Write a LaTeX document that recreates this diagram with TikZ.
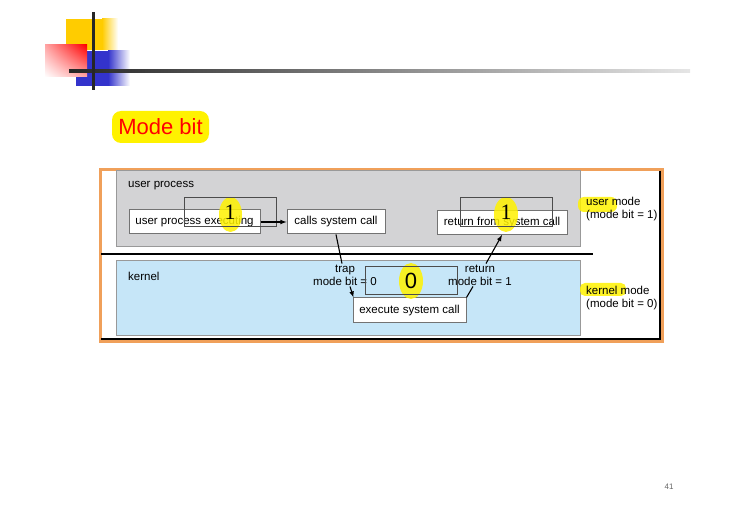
\documentclass[tikz,border=0pt]{standalone}
\usepackage{fontspec}
\setmainfont{Liberation Sans}
\newfontfamily\digitserif{Liberation Serif}
\usetikzlibrary{shadings}

\definecolor{logoyellow}{RGB}{255,204,0}
\definecolor{logoblue}{RGB}{51,51,204}
\definecolor{framecol}{RGB}{240,160,90}
\definecolor{userbg}{RGB}{211,211,213}
\definecolor{kernbg}{RGB}{198,230,248}

\begin{document}
\begin{tikzpicture}[x=1pt,y=-1pt,
    callbox/.style={draw=black!55, fill=white, line width=1pt, inner sep=0pt,
      minimum height=24pt, font=\fontsize{11.5}{13}\selectfont},
    bitbox/.style={draw=black!70, line width=1pt, minimum width=92pt,
      minimum height=29pt, inner sep=0pt, font=\fontsize{22}{24}\selectfont},
    lbl/.style={align=center, inner sep=1pt, font=\fontsize{11.5}{13}\selectfont},
    hilite/.style={fill=yellow, fill opacity=0.85}]
   \useasboundingbox (0,0) rectangle (740,513);

   % logo
   \fill[logoyellow] (66,19) rectangle (102,50);
   \shade[left color=logoyellow, right color=white] (102,19) rectangle (118,50);
   \fill[logoblue] (76,51) rectangle (108,86);
   \shade[left color=logoblue, right color=white] (108,51) rectangle (130,86);
   \shade[upper right=red, upper left=red!35, lower right=red!35, lower left=white] (45,45) rectangle (87,77);
   \shade[left color=black!85, right color=black!10] (69,69.5) rectangle (690,72.5);
   \fill[black!85] (91.5,12) rectangle (94.5,90);

   % title
   \fill[yellow, rounded corners=9pt] (112,111) rectangle (209,143);
   \node[text=red, font=\fontsize{22}{24}\selectfont] (title) at (160.5,127) {Mode bit};

   % frame and areas
   \draw[framecol, line width=2.5pt] (100.5,169.5) rectangle (662.5,341.5);
   \draw[line width=1.6pt] (660,171) -- (660,339) -- (101,339);
   \draw[black!40, fill=userbg, line width=1pt] (116,171) rectangle (580,247);
   \draw[black!40, fill=kernbg, line width=1pt] (116,261) rectangle (580,336);
   \draw[line width=1.6pt] (101,254) -- (593,254);

   \node[lbl, anchor=west] (user) at (127,186) {user process};
   \node[lbl, anchor=west] (kern) at (127,276) {kernel};

   \node[callbox, minimum width=131pt] (upe) at (194.5,222) {user process executing};
   \node[callbox, minimum width=98pt]  (csc) at (336,222) {calls system call};
   \node[callbox, minimum width=130pt] (rsc) at (502,222.5) {return from system call};
   \node[callbox, minimum width=113pt, minimum height=25pt] (esc) at (409.5,310.5) {execute system call};

   \node[lbl] (trap) at (345,275) {trap\\mode bit = 0};
   \node[lbl] (retn) at (480,275) {return\\mode bit = 1};

   % highlighter marks
   \fill[hilite] (230.5,214.5) ellipse [x radius=11.5pt, y radius=17.5pt];
   \fill[hilite] (506,214.5) ellipse [x radius=12pt, y radius=17.5pt];
   \fill[hilite] (411,281) ellipse [x radius=12pt, y radius=18pt];
   \fill[hilite, rounded corners=6pt] (578,197) rectangle (617,212);
   \fill[hilite, rounded corners=5pt] (580,283) rectangle (626,296);

   \node[bitbox, font=\fontsize{22}{24}\digitserif] (one1) at (230,212.5) {1};
   \node[bitbox, font=\fontsize{22}{24}\digitserif] (one2) at (506,212.5) {1};
   \node[bitbox, minimum height=28pt] (zero) at (411,281) {0};

   \node[lbl, anchor=west, align=left, inner sep=0pt] (umode) at (586,209.5) {user mode\\(mode bit = 1)};
   \node[lbl, anchor=west, align=left, inner sep=0pt] (kmode) at (586,298) {kernel mode\\(mode bit = 0)};

   \draw[line width=1.1pt, -latex] (upe) to (csc);
   \draw[line width=1.1pt] (csc.south) to ([xshift=-3pt]trap.north);
   \draw[line width=1.1pt, -latex] ([xshift=5pt]trap.south) to ([xshift=1pt]esc.north west);
   \draw[line width=1.1pt] (esc.north east) to ([xshift=-7pt]retn.south);
   \draw[line width=1.1pt, -latex] ([xshift=6pt]retn.north) to (rsc.south);

   \node[text=black!60, font=\fontsize{8}{9}\selectfont] (page) at (669,487) {41};
 \end{tikzpicture}
\end{document}
